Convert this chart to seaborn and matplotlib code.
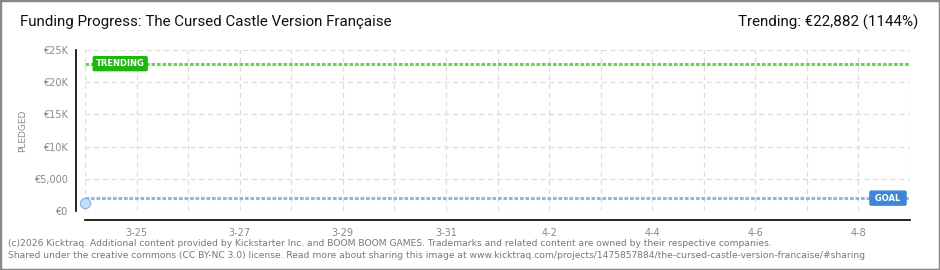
import matplotlib
matplotlib.use("Agg")
import matplotlib.pyplot as plt
import matplotlib.patches as mpatches
import seaborn as sns
import pandas as pd
import numpy as np

# ---- data ----
dates = ["2026-03-24"]
pledged = [1300]
goal = 2000
trending = 22882
trending_pct = 1144
x_start = "2026-03-24"
x_end = "2026-04-09"
y_ticks = [0, 5000, 10000, 15000, 20000, 25000]
y_tick_labels = ["€0", "€5,000", "€10K", "€15K", "€20K", "€25K"]
title = "Funding Progress: The Cursed Castle Version Française"
trend_text = "Trending: €22,882 (1144%)"
footer1 = ("(c)2026 Kicktraq. Additional content provided by Kickstarter Inc. and BOOM BOOM GAMES. "
           "Trademarks and related content are owned by their respective companies.")
footer2 = ("Shared under the creative commons (CC BY-NC 3.0) license. Read more about sharing this image at "
           "www.kicktraq.com/projects/1475857884/the-cursed-castle-version-francaise/#sharing")

df = pd.DataFrame({"date": pd.to_datetime(dates), "pledged": pledged})

sns.set_style("white")
plt.rcParams["font.family"] = ["DejaVu Sans"]

fig = plt.figure(figsize=(9.4, 2.7), dpi=100)
ax = fig.add_axes([85/940, 1 - 211/270, 825/940, 161/270])

x0 = pd.Timestamp(x_start)
x1 = pd.Timestamp(x_end)
ax.set_xlim(x0, x1)
ax.set_ylim(0, 25000)

# grid
for d in pd.date_range(x0, x1, freq="D"):
    ax.axvline(d, color="#dddddd", lw=0.9, ls=(0, (4, 3)), zorder=0)
for yv in y_ticks:
    ax.axhline(yv, color="#dddddd", lw=0.9, ls=(0, (4, 3)), zorder=0)

# goal & trending lines
ax.axhline(goal, color="#8ab8ea", lw=2.2, ls=(0, (1.2, 0.6)), zorder=2)
ax.axhline(trending, color="#6cd455", lw=2.2, ls=(0, (1.2, 0.6)), zorder=2)

sns.scatterplot(data=df, x="date", y="pledged", ax=ax, s=55, color="#c5dcf7",
                edgecolor="#8ab0de", linewidth=0.8, zorder=5, clip_on=False, legend=False)

# labels on lines
ax.text(x0 + pd.Timedelta(hours=5), trending, "TRENDING", color="white", fontsize=6,
        fontweight="bold", va="center", ha="left", zorder=6,
        bbox=dict(boxstyle="round,pad=0.3,rounding_size=0.15", fc="#1fb60e", ec="#1fb60e"))
ax.text(x1 - pd.Timedelta(hours=3), goal, " GOAL ", color="white", fontsize=6,
        fontweight="bold", va="center", ha="right", zorder=6,
        bbox=dict(boxstyle="round,pad=0.3,rounding_size=0.15", fc="#3d86d6", ec="#3d86d6"))

# spines
for s in ["top", "right"]:
    ax.spines[s].set_visible(False)
ax.spines["left"].set_position(("outward", 6.5))
ax.spines["bottom"].set_position(("outward", 6.5))
ax.spines["left"].set_color("black")
ax.spines["bottom"].set_color("black")
ax.spines["left"].set_linewidth(1.2)
ax.spines["bottom"].set_linewidth(1.2)

ax.set_yticks(y_ticks)
ax.set_yticklabels(y_tick_labels)
ax.set_yticks(np.arange(2500, 25000, 5000), minor=True)
ax.tick_params(axis="y", which="major", direction="out", length=4, width=1, color="black",
               labelsize=7, labelcolor="#888888", pad=2)
ax.tick_params(axis="y", which="minor", direction="out", length=3, width=1, color="red")

major = pd.date_range(pd.Timestamp("2026-03-25"), x1, freq="2D")
ax.set_xticks(major)
ax.set_xticklabels([f"{d.month}-{d.day}" for d in major])
ax.set_xticks(pd.date_range(x0, x1, freq="D"), minor=True)
ax.tick_params(axis="x", which="both", direction="inout", length=7, width=1, color="black",
               labelsize=7, labelcolor="#888888", pad=2)
ax.set_xlabel("")
ax.set_ylabel("PLEDGED", fontsize=6.5, color="#888888", labelpad=5)

# texts
tfont = ["Roboto", "DejaVu Sans"]
fig.text(20/940, 1 - 22/270, title, fontsize=10.9, va="center", ha="left", color="#111111",
         family=tfont)
fig.text(918/940, 1 - 22/270, trend_text, fontsize=10.9, va="center", ha="right", color="#111111",
         family=tfont)
fig.text(8/940, 1 - 243/270, footer1, fontsize=6.6, color="#777777", va="center", ha="left")
fig.text(8/940, 1 - 255/270, footer2, fontsize=6.6, color="#777777", va="center", ha="left")

fig.patches.append(mpatches.Rectangle((0, 0), 1, 1, transform=fig.transFigure, fill=False,
                                      ec="#888888", lw=2.5))

fig.savefig("out.png", dpi=100)
